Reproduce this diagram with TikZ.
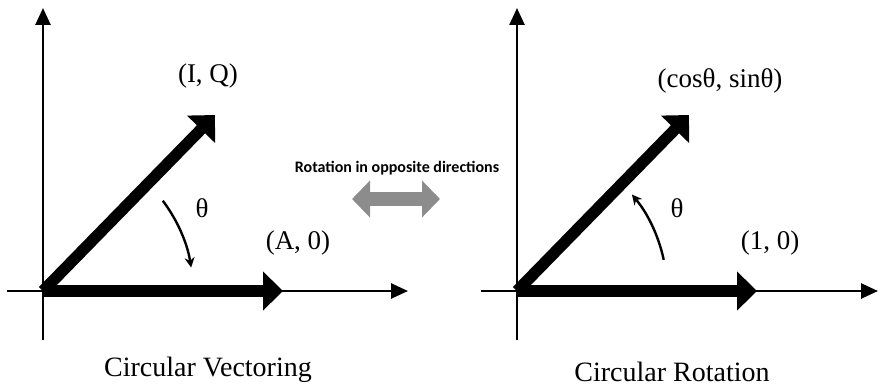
\documentclass[tikz,border=0pt]{standalone}
\usepackage{fontspec}
\setmainfont{Liberation Serif}
\newfontfamily\calfont{Carlito}
\usepackage{tikz}
\usetikzlibrary{
  arrows.meta,
  positioning,
  calc
}
\definecolor{rvGray}{HTML}{8C8C8C}
\tikzset{
  axisline/.style={-{Triangle[length=17pt,width=15pt]}, line width=2.6pt},
  vecline/.style={-{Triangle[length=20pt,width=38pt]}, line width=11.5pt},
  turnarc/.style={-{Stealth[length=10pt,width=10pt]}, line width=2.4pt},
  lbl/.style={font=\fontsize{27}{31}\selectfont, inner sep=0pt},
  caption/.style={font=\fontsize{28}{32}\selectfont, inner sep=0pt},
  swaparrow/.style={{Triangle[length=18pt,width=36pt]}-{Triangle[length=18pt,width=36pt]}, line width=14pt, rvGray},
  note/.style={font=\calfont\bfseries\fontsize{16}{19}\selectfont, inner sep=0pt}
}
\begin{document}
\begin{tikzpicture}[x=1pt,y=1pt]
  \useasboundingbox (0,0) rectangle (880,389);

  % circular vectoring
  \coordinate (oL) at (43,98);
  \coordinate (yLb) at (43,49);  \coordinate (yLt) at (43,381);
  \coordinate (xLl) at (7,98);   \coordinate (xLr) at (408,98);
  \coordinate (hL) at (283,98);  \coordinate (dL) at (215,274);
  \coordinate (aLs) at ($(oL)+(37:150)$);
  \draw[axisline] (yLb) -- (yLt);
  \draw[axisline] (xLl) -- (xLr);
  \draw[vecline] (oL) -- (hL);
  \draw[vecline] (oL) -- (dL);
  \draw[turnarc] (aLs) arc[start angle=37, end angle=9, radius=150];
  \node[lbl] (lIQ) at (208,313) {(I, Q)};
  \node[lbl] (lthL) at (202,181) {θ};
  \node[lbl] (lA0) at (298,146) {(A, 0)};
  \node[caption] (cL) at (208,19) {Circular Vectoring};

  % middle
  \node[note] (mid) at (397,221) {Rotation in opposite directions};
  \coordinate (sl) at (352,190); \coordinate (sr) at (440,190);
  \draw[swaparrow] (sl) -- (sr);

  % circular rotation
  \coordinate (oR) at (517,98);
  \coordinate (yRb) at (517,49); \coordinate (yRt) at (517,381);
  \coordinate (xRl) at (481,98); \coordinate (xRr) at (878,98);
  \coordinate (hR) at (757,98);  \coordinate (dR) at (689,274);
  \coordinate (aRs) at ($(oR)+(12:150)$);
  \draw[axisline] (yRb) -- (yRt);
  \draw[axisline] (xRl) -- (xRr);
  \draw[vecline] (oR) -- (hR);
  \draw[vecline] (oR) -- (dR);
  \draw[turnarc] (aRs) arc[start angle=12, end angle=40, radius=150];
  \node[lbl] (lcs) at (720,308) {(cosθ, sinθ)};
  \node[lbl] (lthR) at (677,181) {θ};
  \node[lbl] (l10) at (770,146) {(1, 0)};
  \node[caption] (cR) at (672,17) {Circular Rotation};
\end{tikzpicture}
\end{document}
